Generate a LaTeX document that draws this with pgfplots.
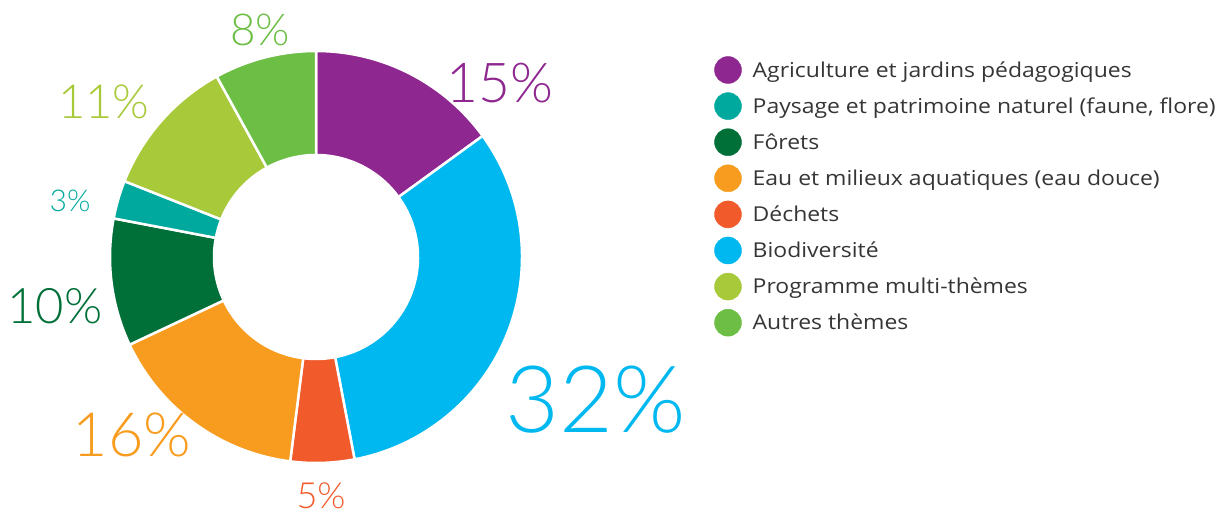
\documentclass[border=0pt]{standalone}
\usepackage{pgfplots}
\pgfplotsset{compat=1.18}
\usepackage{pgfplotstable}
\usepackage{fontspec}
\setmainfont{Open Sans}[FakeStretch=1.12]
\IfFontExistsTF{Lato Light}{\newfontfamily\pctfont{Lato Light}}{\newfontfamily\pctfont{Lato}}
\definecolor{cPurple}{HTML}{8E278F}
\definecolor{cBlue}{HTML}{00B8F0}
\definecolor{cRed}{HTML}{F15A2B}
\definecolor{cOrange}{HTML}{F79C1F}
\definecolor{cDkGreen}{HTML}{006F38}
\definecolor{cTeal}{HTML}{00A99D}
\definecolor{cYlGreen}{HTML}{A7C93A}
\definecolor{cGreen}{HTML}{6CBE45}
\definecolor{cText}{HTML}{353535}
% slices clockwise from 12 o'clock: percent, colour, label position, label size
\pgfplotstableread[col sep=comma]{
pct,col,lx,ly,fs
15,cPurple,500,432,55
32,cBlue,596,115,93
5,cRed,321,19,36
16,cOrange,132,80,61
10,cDkGreen,55,209,49
3,cTeal,70,314,30
11,cYlGreen,104,413,47
8,cGreen,260,485,44
}\slices
\pgfplotstableread[col sep=semicolon]{
name;col
Agriculture et jardins pédagogiques;cPurple
Paysage et patrimoine naturel (faune, flore);cTeal
Fôrets;cDkGreen
Eau et milieux aquatiques (eau douce);cOrange
Déchets;cRed
Biodiversité;cBlue
Programme multi-thèmes;cYlGreen
Autres thèmes;cGreen
}\legendtab
\begin{document}
\begin{tikzpicture}
\begin{axis}[
  hide axis, scale only axis,
  width=1219pt, height=515pt,
  xmin=0, xmax=1219, ymin=0, ymax=515,
  enlargelimits=false, clip=false,
]
\path (axis cs:0,0) rectangle (axis cs:1219,515);
\pgfplotstablegetrowsof{\slices}
\pgfmathtruncatemacro\nrows{\pgfplotsretval-1}
\def\cum{0}
\pgfplotsforeachungrouped \i in {0,...,\nrows}{%
  \pgfplotstablegetelem{\i}{pct}\of\slices \let\p\pgfplotsretval
  \pgfplotstablegetelem{\i}{col}\of\slices \let\c\pgfplotsretval
  \pgfplotstablegetelem{\i}{lx}\of\slices \let\lx\pgfplotsretval
  \pgfplotstablegetelem{\i}{ly}\of\slices \let\ly\pgfplotsretval
  \pgfplotstablegetelem{\i}{fs}\of\slices \let\fs\pgfplotsretval
  \pgfmathsetmacro\a{90-3.6*\cum}
  \pgfmathsetmacro\b{90-3.6*(\cum+\p)}
  \edef\doit{%
    \noexpand\fill[\c, draw=white, line width=2.5pt]
      (axis cs:316,258) ++(\a:206pt) arc[start angle=\a, end angle=\b, radius=206pt]
      -- ([shift={(\b:102pt)}]axis cs:316,258) arc[start angle=\b, end angle=\a, radius=102pt] -- cycle;
    \noexpand\node[text=\c, inner sep=0pt, font=\noexpand\pctfont\noexpand\fontsize{\fs}{\fs}\noexpand\selectfont]
      at (axis cs:\lx,\ly) {\p\noexpand\%};
  }%
  \doit
  \pgfmathsetmacro\cum{\cum+\p}
}
% legend
\pgfplotstablegetrowsof{\legendtab}
\pgfmathtruncatemacro\nleg{\pgfplotsretval-1}
\pgfplotsforeachungrouped \i in {0,...,\nleg}{%
  \pgfplotstablegetelem{\i}{name}\of\legendtab \let\nm\pgfplotsretval
  \pgfplotstablegetelem{\i}{col}\of\legendtab \let\c\pgfplotsretval
  \pgfmathsetmacro\yy{445-36.1*\i}
  \pgfmathsetmacro\yb{\yy-7.2}
  \edef\doit{%
    \noexpand\addplot[only marks, mark=*, mark size=13.5pt, color=\c, mark options={draw=none, fill=\c}] coordinates {(728,\yy)};
    \noexpand\node[anchor=base west, inner sep=0pt, text=cText, font=\noexpand\fontsize{20.5}{24}\noexpand\selectfont]
      at (axis cs:752.5,\yb) {\nm};
  }%
  \doit
}
\end{axis}
\end{tikzpicture}
\end{document}
